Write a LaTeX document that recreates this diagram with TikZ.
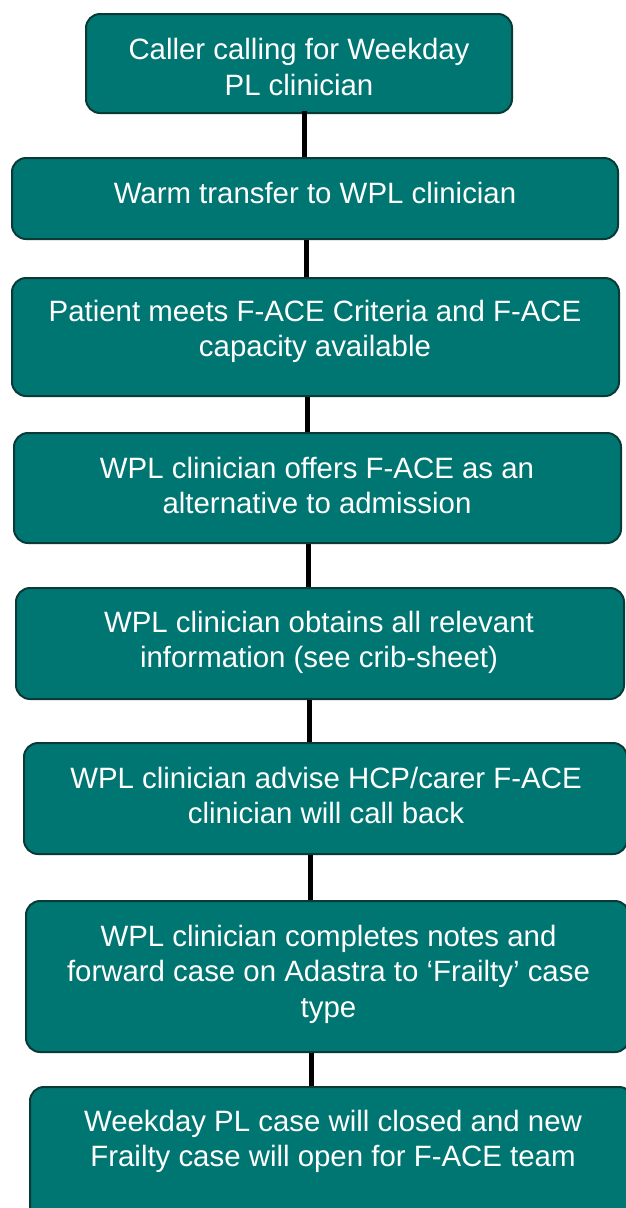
\documentclass[tikz,border=0pt]{standalone}
\usepackage{fontspec}
\setmainfont{Liberation Sans}
\definecolor{teal1}{RGB}{0,118,114}
\definecolor{tealdark}{RGB}{10,58,56}
\begin{document}
\begin{tikzpicture}[x=1pt,y=-1pt,
  box/.style={draw=tealdark,line width=2pt,fill=teal1,rounded corners=14pt,inner sep=0pt},
  txt/.style={text=white,align=center,inner sep=0pt,font=\fontsize{29.4}{35.5}\selectfont},
  conn/.style={draw=black,line width=5pt}]
\useasboundingbox (0,0) rectangle (625,1208);
% connector x positions
\coordinate (g1) at (304,0);
\coordinate (g2) at (306,0);
\coordinate (g3) at (307,0);
\coordinate (g4) at (308,0);
\coordinate (g5) at (309,0);
\coordinate (g6) at (310,0);
\coordinate (g7) at (311,0);
% boxes (shapes)
\node[box,minimum width=426pt,minimum height=99pt] (b1) at (299,63.5) {};
\node[box,minimum width=606pt,minimum height=81pt] (b2) at (315,198.5) {};
\node[box,minimum width=607pt,minimum height=118pt] (b3) at (315.5,337) {};
\node[box,minimum width=607pt,minimum height=110pt] (b4) at (317.5,488) {};
\node[box,minimum width=608pt,minimum height=111pt] (b5) at (320,643.5) {};
\node[box,minimum width=603pt,minimum height=111pt] (b6) at (325.5,798.5) {};
\node[box,minimum width=603pt,minimum height=151pt] (b7) at (327.5,976.5) {};
\node[box,minimum width=603pt,minimum height=143pt] (b8) at (331.5,1158.5) {};
% connectors
\draw[conn] ([yshift=3pt]b1.south -| g1) -- (b2.north -| g1);
\draw[conn] (b2.south -| g2) -- (b3.north -| g2);
\draw[conn] (b3.south -| g3) -- (b4.north -| g3);
\draw[conn] (b4.south -| g4) -- (b5.north -| g4);
\draw[conn] (b5.south -| g5) -- (b6.north -| g5);
\draw[conn] (b6.south -| g6) -- (b7.north -| g6);
\draw[conn] (b7.south -| g7) -- (b8.north -| g7);
% texts
\node[txt] (t1) at (299,67) {Caller calling for Weekday\\PL clinician};
\node[txt] (t2) at (315,193) {Warm transfer to WPL clinician};
\node[txt] (t3) at (315,331.5) {Patient meets F-ACE Criteria and F-ACE\\capacity available};
\node[txt] (t4) at (317,485.5) {WPL clinician offers F-ACE as an\\alternative to admission};
\node[txt] (t5) at (319,642.5) {WPL clinician obtains all relevant\\information (see crib-sheet)};
\node[txt] (t6) at (326,795.5) {WPL clinician advise HCP/carer F-ACE\\clinician will call back};
\node[txt] (t7) at (328.5,974) {WPL clinician completes notes and\\forward case on Adastra to ‘Frailty’ case\\type};
\node[txt] (t8) at (333,1141.5) {Weekday PL case will closed and new\\Frailty case will open for F-ACE team};
\end{tikzpicture}
\end{document}
